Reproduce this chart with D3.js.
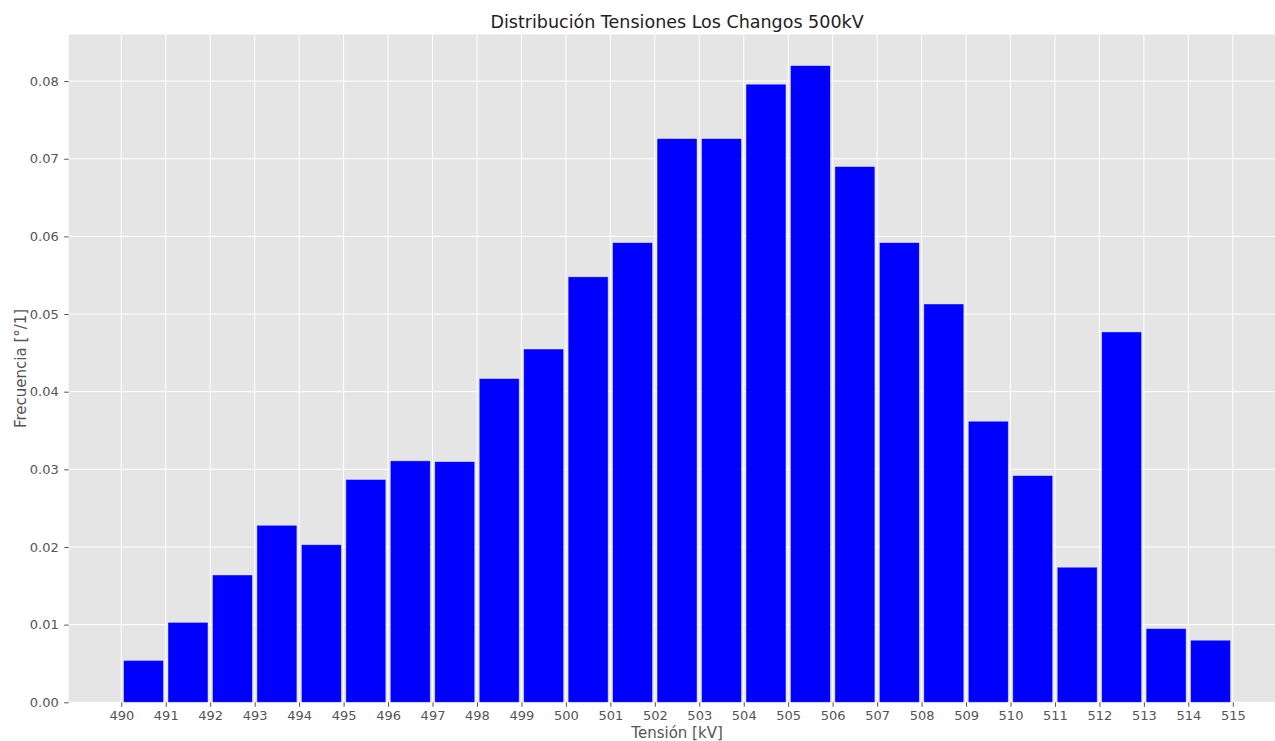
<!DOCTYPE html>
<html>
<head>
<meta charset="utf-8">
<script src="https://cdn.jsdelivr.net/npm/d3@7"></script>
<style>
  body { margin: 0; background: #fff; }
  text { font-family: "DejaVu Sans", sans-serif; }
</style>
</head>
<body>
<div id="chart"></div>
<script>
// bins (left edge, kV) and relative frequency of each bin
var bins = [490, 491, 492, 493, 494, 495, 496, 497, 498, 499, 500, 501, 502,
            503, 504, 505, 506, 507, 508, 509, 510, 511, 512, 513, 514];
var freq = [0.0054, 0.0103, 0.0164, 0.0228, 0.0203, 0.0287, 0.0311, 0.0310, 0.0417,
            0.0455, 0.0548, 0.0592, 0.0726, 0.0726, 0.0796, 0.0820, 0.0690, 0.0592,
            0.0513, 0.0362, 0.0292, 0.0174, 0.0477, 0.0095, 0.0080];
var xTicks = d3.range(490, 516);
var yTicks = [0, 0.01, 0.02, 0.03, 0.04, 0.05, 0.06, 0.07, 0.08];

var W = 1275, H = 741;
var margin = { top: 34.5, left: 68.7, bottom: 38.7, right: -10.4 };
var rwidth = 0.9;

var svg = d3.select('#chart')
    .append('svg')
    .attr('width', W)
    .attr('height', H);

var x = d3.scaleLinear()
    .domain([488.817, 516.183])
    .range([margin.left, W - margin.right]);
var y = d3.scaleLinear()
    .domain([0, 0.086])
    .range([H - margin.bottom, margin.top]);

// panel background
svg.append('rect')
    .attr('x', margin.left)
    .attr('y', margin.top)
    .attr('width', x.range()[1] - margin.left)
    .attr('height', y(0) - margin.top)
    .attr('fill', '#E5E5E5');

// grid
svg.append('g').selectAll('line')
    .data(xTicks)
    .enter().append('line')
    .attr('x1', d => x(d)).attr('x2', d => x(d))
    .attr('y1', margin.top).attr('y2', y(0))
    .attr('stroke', '#fff').attr('stroke-width', 1);
svg.append('g').selectAll('line')
    .data(yTicks)
    .enter().append('line')
    .attr('x1', margin.left).attr('x2', x.range()[1])
    .attr('y1', d => y(d)).attr('y2', d => y(d))
    .attr('stroke', '#fff').attr('stroke-width', 1);

// bars
var pad = (1 - rwidth) / 2;
svg.append('g').selectAll('rect')
    .data(bins)
    .enter().append('rect')
    .attr('x', d => x(d + pad))
    .attr('y', (d, i) => y(freq[i]))
    .attr('width', d => x(d + 1 - pad) - x(d + pad))
    .attr('height', (d, i) => y(0) - y(freq[i]))
    .attr('fill', '#0000FF')
    .attr('stroke', '#ffffff')
    .attr('stroke-opacity', 0.55)
    .attr('stroke-width', 0.8);

// axes
var xAxis = svg.append('g')
    .attr('transform', 'translate(0,' + y(0) + ')')
    .call(d3.axisBottom(x).tickValues(xTicks).tickFormat(d3.format('d'))
        .tickSize(4.5).tickPadding(4));
var yAxis = svg.append('g')
    .attr('transform', 'translate(' + margin.left + ',0)')
    .call(d3.axisLeft(y).tickValues(yTicks).tickFormat(d3.format('.2f'))
        .tickSize(4.5).tickPadding(5.5));

[xAxis, yAxis].forEach(function(a) {
    a.select('.domain').remove();
    a.selectAll('.tick line').attr('stroke', '#555');
    a.selectAll('.tick text')
        .attr('fill', '#555')
        .style('font-size', '13px')
        .style('font-family', '"DejaVu Sans", sans-serif');
});

// labels
svg.append('text')
    .attr('x', (margin.left + x.range()[1]) / 2)
    .attr('y', 27.5)
    .attr('text-anchor', 'middle')
    .attr('fill', '#222')
    .style('font-size', '17.5px')
    .text('Distribución Tensiones Los Changos 500kV');

svg.append('text')
    .attr('x', x(502.5))
    .attr('y', 738.3)
    .attr('text-anchor', 'middle')
    .attr('fill', '#555')
    .style('font-size', '15px')
    .text('Tensión [kV]');

svg.append('text')
    .attr('transform', 'translate(25.5,' + (margin.top + y(0)) / 2 + ') rotate(-90)')
    .attr('text-anchor', 'middle')
    .attr('fill', '#555')
    .style('font-size', '15px')
    .text('Frecuencia [°/1]');
</script>
</body>
</html>
